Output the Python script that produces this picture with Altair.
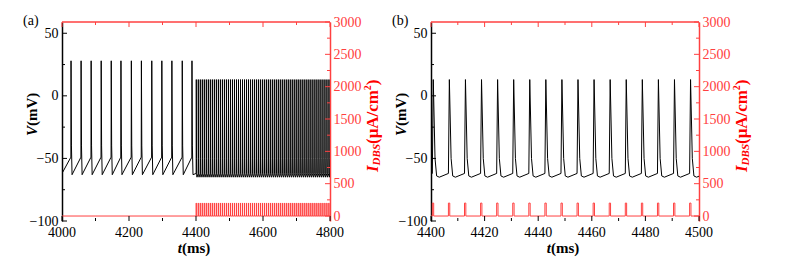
import altair as alt
import pandas as pd

# ---------------- values ----------------
# natural spikes before DBS onset (ms)
NAT_SPIKE_T = [4027, 4057, 4087, 4117, 4147, 4176, 4207, 4237, 4268, 4298, 4328, 4359, 4388]
NAT_DT = [-0.5, 0.0, 1.2, 3.0]          # shape of a natural spike (ms from peak)
NAT_V = [-49, 28, -40, -63]             # mV
V_START = (4000, -62)
V_END = (4800, -62)

# DBS pulse onsets (ms)
DBS_PULSE_T = [4400.5, 4406.5, 4412.5, 4418.5, 4424.5, 4430.5, 4436.5, 4442.5, 4448.5,
               4454.5, 4460.5, 4466.5, 4472.5, 4478.5, 4484.5, 4490.5, 4496.5, 4502.5,
               4508.5, 4514.5, 4520.5, 4526.5, 4532.5, 4538.5, 4544.5, 4550.5, 4556.5,
               4562.5, 4568.5, 4574.5, 4580.5, 4586.5, 4592.5, 4598.5, 4604.5, 4610.5,
               4616.5, 4622.5, 4628.5, 4634.5, 4640.5, 4646.5, 4652.5, 4658.5, 4664.5,
               4670.5, 4676.5, 4682.5, 4688.5, 4694.5, 4700.5, 4706.5, 4712.5, 4718.5,
               4724.5, 4730.5, 4736.5, 4742.5, 4748.5, 4754.5, 4760.5, 4766.5, 4772.5,
               4778.5, 4784.5, 4790.5, 4796.5]
DBS_DT = [0.0, 0.35, 1.0, 1.6, 2.6]     # shape of a DBS-driven spike (ms from pulse onset)
DBS_V = [-62, 13, -50, -64, -65]        # mV
PULSE_WIDTH = 0.5                        # ms
PULSE_AMP = 200                          # uA/cm^2

# axis ticks
Y_LEFT_DOMAIN = [-100, 59]
Y_LEFT_MAJOR = [-100, -50, 0, 50]
Y_LEFT_MINOR = [-75, -25, 25]
Y_RIGHT_DOMAIN = [-77, 3000]
Y_RIGHT_MAJOR = [0, 500, 1000, 1500, 2000, 2500, 3000]
Y_RIGHT_MINOR = [250, 750, 1250, 1750, 2250, 2750]

PANELS = [
    {"label": "(a)", "domain": [4000, 4800],
     "major": [4000, 4200, 4400, 4600, 4800], "minor": [4100, 4300, 4500, 4700]},
    {"label": "(b)", "domain": [4400, 4500],
     "major": [4400, 4420, 4440, 4460, 4480, 4500],
     "minor": [4410, 4430, 4450, 4470, 4490]},
]

# ---------------- build tables ----------------
v_rows = [V_START]
for ts in NAT_SPIKE_T:
    for dt, v in zip(NAT_DT, NAT_V):
        v_rows.append((ts + dt, v))
for p in DBS_PULSE_T:
    for dt, v in zip(DBS_DT, DBS_V):
        v_rows.append((p + dt, v))
v_rows.append(V_END)
vdf = pd.DataFrame(v_rows, columns=["t", "v"])
vdf["i"] = range(len(vdf))

i_rows = [(V_START[0], 0)]
for p in DBS_PULSE_T:
    i_rows += [(p, 0), (p, PULSE_AMP), (p + PULSE_WIDTH, PULSE_AMP), (p + PULSE_WIDTH, 0)]
i_rows.append((V_END[0], 0))
idf = pd.DataFrame(i_rows, columns=["t", "c"])
idf["i"] = range(len(idf))

one = pd.DataFrame({"d": [0]})

W, H = 268, 199
FONT = "Liberation Serif"
RED = "#ff4040"
TRED = "#ff0000"
BLACK = "#000000"


def vals(lst, col):
    return pd.DataFrame({col: lst})


def txt(s, x, y, size, color=BLACK, weight="bold", style="normal", align="left",
        angle=0):
    kw = dict(font=FONT, fontSize=size, fontWeight=weight, fontStyle=style,
              align=align, baseline="middle", color=color)
    if angle:
        kw["angle"] = angle
    return alt.Chart(one).mark_text(**kw).encode(
        x=alt.value(x), y=alt.value(y), text=alt.value(s))


def panel(p):
    xs = alt.Scale(domain=p["domain"], nice=False, zero=False)
    ysl = alt.Scale(domain=Y_LEFT_DOMAIN, nice=False, zero=False)
    ysr = alt.Scale(domain=Y_RIGHT_DOMAIN, nice=False, zero=False)

    vline = alt.Chart(vdf).mark_line(color=BLACK, strokeWidth=1.0, clip=True).encode(
        x=alt.X("t:Q", scale=xs, title=None,
                axis=alt.Axis(values=p["major"], orient="bottom", labels=False,
                              domainColor=BLACK)),
        y=alt.Y("v:Q", scale=ysl, title=None,
                axis=alt.Axis(values=Y_LEFT_MAJOR, orient="left", domainColor=BLACK,
                              labelColor=BLACK, labelPadding=4)),
        order="i:Q",
    )
    iline = alt.Chart(idf).mark_line(color=RED, strokeWidth=1, clip=True).encode(
        x=alt.X("t:Q", scale=xs, axis=None),
        y=alt.Y("c:Q", scale=ysr, title=None,
                axis=alt.Axis(values=Y_RIGHT_MAJOR, orient="right", domainColor=RED,
                              labelColor=RED, labelPadding=3, format="d")),
        order="i:Q",
    )
    top = alt.Chart(one).mark_rule(color=RED, strokeWidth=1.5).encode(
        x=alt.value(0), x2=alt.value(W), y=alt.value(0))

    xlabels = alt.Chart(vals(p["major"], "t")).mark_text(
        font=FONT, fontSize=14, color=BLACK, align="center", baseline="middle"
    ).encode(
        x=alt.X("t:Q", scale=xs, axis=None), y=alt.value(H + 12),
        text=alt.Text("t:Q", format="d"))

    layers = [vline, iline, top, xlabels]
    # inward tick marks
    for lst, ln in ((p["major"], 5), (p["minor"], 3)):
        layers.append(alt.Chart(vals(lst, "t")).mark_rule(color=BLACK, strokeWidth=1).encode(
            x=alt.X("t:Q", scale=xs, axis=None), y=alt.value(H), y2=alt.value(H - ln)))
        layers.append(alt.Chart(vals(lst, "t")).mark_rule(color=RED, strokeWidth=1).encode(
            x=alt.X("t:Q", scale=xs, axis=None), y=alt.value(0), y2=alt.value(ln)))
    for lst, ln in ((Y_LEFT_MAJOR, 5), (Y_LEFT_MINOR, 3)):
        layers.append(alt.Chart(vals(lst, "v")).mark_rule(color=BLACK, strokeWidth=1).encode(
            y=alt.Y("v:Q", scale=ysl, axis=None), x=alt.value(0), x2=alt.value(ln)))
    for lst, ln in ((Y_RIGHT_MAJOR, 5), (Y_RIGHT_MINOR, 3)):
        layers.append(alt.Chart(vals(lst, "c")).mark_rule(color=RED, strokeWidth=1).encode(
            y=alt.Y("c:Q", scale=ysr, axis=None), x=alt.value(W), x2=alt.value(W - ln)))

    # texts
    layers += [
        txt(p["label"], -39, -1, 14, weight="normal"),
        txt("V", -30.5, 104, 15, style="italic", align="right", angle=270),
        txt("(mV)", -30.5, 104, 15, align="left", angle=270),
        txt("t", 120, 226, 15, style="italic", align="right"),
        txt("(ms)", 120, 226, 15, align="left"),
        txt("I", W + 43, 150, 17, color=TRED, style="italic", angle=270),
        txt("DBS", W + 47, 143.4, 11, color=TRED, style="italic", angle=270),
        txt("(μA/cm", W + 43, 122, 17, color=TRED, angle=270),
        txt("2", W + 38, 68.2, 10, color=TRED, angle=270),
        txt(")", W + 43, 63.2, 17, color=TRED, angle=270),
    ]
    return alt.layer(*layers).resolve_scale(y="independent").properties(width=W, height=H)


chart = alt.hconcat(panel(PANELS[0]), panel(PANELS[1]), spacing=10).properties(
    padding={"left": 15, "top": 6, "right": 5, "bottom": 2}
).configure_view(stroke=None).configure_axis(
    labelFont=FONT, labelFontSize=14, ticks=False, grid=False, domainWidth=1.5,
    labelFlush=False, labelOverlap=False, labelPadding=5,
)

chart.save("out.html", embed_options={"renderer": "svg", "actions": False})
